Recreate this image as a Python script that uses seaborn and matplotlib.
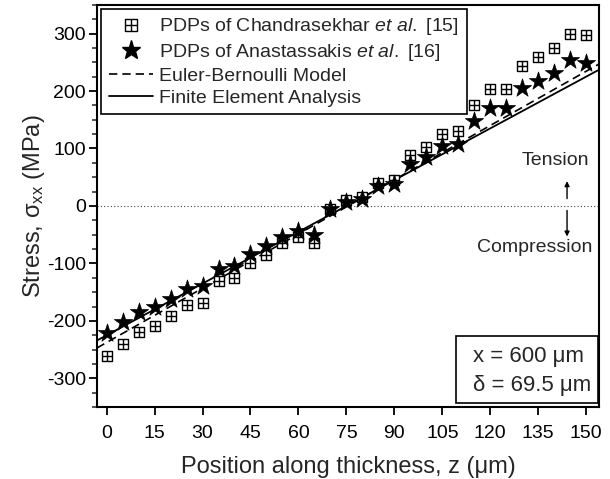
import numpy as np
import pandas as pd
import matplotlib
matplotlib.use("Agg")
import matplotlib.pyplot as plt
from matplotlib.path import Path
from matplotlib.lines import Line2D
from matplotlib.patches import Rectangle
import seaborn as sns

# ---- data ----
z = [0, 5, 10, 15, 20, 25, 30, 35, 40, 45, 50, 55, 60, 65, 70, 75, 80, 85, 90, 95,
     100, 105, 110, 115, 120, 125, 130, 135, 140, 145, 150]
chandrasekhar = [-261, -240, -219, -209, -192, -172, -168, -130, -126, -100, -86, -65, -54, -65, -5,
                 10, 15, 40, 45, 88, 103, 125, 130, 175, 204, 204, 243, 260, 275, 300, 297]
anastassakis = [-221, -202, -184, -175, -161, -144, -140, -109, -105, -84, -70, -54, -44, -51, -5,
                7, 12, 35, 38, 73, 85, 105, 108, 148, 170, 170, 205, 217, 232, 254, 249]
z_model = [-3, 154]
euler_bernoulli = [-247, 247]
fea = [-234, 237]

xticks = [0, 15, 30, 45, 60, 75, 90, 105, 120, 135, 150]
yticks = [-300, -200, -100, 0, 100, 200, 300]

sns.set_style("ticks")
plt.rcParams["font.family"] = ["Liberation Sans", "DejaVu Sans"]
plt.rcParams["mathtext.fontset"] = "custom"
plt.rcParams["mathtext.rm"] = "Liberation Sans"
plt.rcParams["mathtext.it"] = "Liberation Sans:italic"
plt.rcParams["axes.unicode_minus"] = False

fig = plt.figure(figsize=(6.1, 4.79), dpi=100)
ax = fig.add_axes([0.159, 0.150, 0.823, 0.840])

# box-plus marker
verts = [(-1, -1), (1, -1), (1, 1), (-1, 1), (-1, -1), (0, -1), (0, 1), (-1, 0), (1, 0)]
codes = [Path.MOVETO, Path.LINETO, Path.LINETO, Path.LINETO, Path.CLOSEPOLY,
         Path.MOVETO, Path.LINETO, Path.MOVETO, Path.LINETO]
boxplus = Path(verts, codes)

ax.axhline(0, color="#444444", lw=0.8, ls=(0, (1, 2)), zorder=1)

sns.lineplot(x=z_model, y=euler_bernoulli, color="black", lw=1.2, ls=(0, (5, 3)), ax=ax, zorder=2)
sns.lineplot(x=z_model, y=fea, color="black", lw=1.3, ax=ax, zorder=2)

sns.scatterplot(x=z, y=chandrasekhar, marker=boxplus, s=60, color="white",
                edgecolor="black", linewidth=1.0, ax=ax, zorder=3)
sns.scatterplot(x=z, y=anastassakis, marker="*", s=190, color="black",
                edgecolor="black", linewidth=0.5, ax=ax, zorder=4)

ax.set_xlim(-3, 154)
ax.set_ylim(-350, 350)
ax.set_xticks(xticks)
ax.set_yticks(yticks)
ax.set_yticks(np.arange(-350, 351, 25), minor=True)
ax.tick_params(axis="both", which="major", direction="out", length=6, width=1.3,
               labelsize=14, colors="black")
ax.tick_params(axis="x", which="major", pad=7)
ax.tick_params(axis="y", which="major", pad=2)
ax.tick_params(axis="y", which="minor", direction="out", length=3.5, width=1.1)
for s in ax.spines.values():
    s.set_linewidth(1.5)
    s.set_color("black")
    s.set_visible(True)

ax.set_xlabel("Position along thickness, z (\u03bcm)", fontsize=17, labelpad=10)
ax.set_ylabel("Stress, \u03c3$_{\\rm xx}$ (MPa)", fontsize=17, labelpad=0)

handles = [
    Line2D([], [], ls="none", marker=boxplus, markersize=8, mfc="white", mec="black", mew=1.0),
    Line2D([], [], ls="none", marker="*", markersize=14, mfc="black", mec="black"),
    Line2D([], [], color="black", lw=1.2, ls=(0, (5, 3))),
    Line2D([], [], color="black", lw=1.3),
]
labels = [
    "PDPs of Chandrasekhar $\\it{et\\ al.}$ [15]",
    "PDPs of Anastassakis $\\it{et\\ al.}$ [16]",
    "Euler-Bernoulli Model",
    "Finite Element Analysis",
]
leg = ax.legend(handles, labels, loc="upper left", fontsize=14, frameon=True, fancybox=False,
                edgecolor="black", framealpha=1, borderaxespad=0.2, handlelength=2.3,
                handletextpad=0.3, labelspacing=0.22, borderpad=0.4)
leg.get_frame().set_linewidth(1.2)

# annotation box
ax.add_patch(Rectangle((0.715, 0.01), 0.282, 0.167, transform=ax.transAxes, fill=True,
                       facecolor="white", edgecolor="black", lw=1.2, zorder=5))
ax.text(0.748, 0.125, "x = 600 \u03bcm", transform=ax.transAxes, fontsize=16,
        va="center", ha="left", zorder=6)
ax.text(0.748, 0.055, "\u03b4 = 69.5 \u03bcm", transform=ax.transAxes, fontsize=16,
        va="center", ha="left", zorder=6)

# tension / compression
ax.text(140.5, 79, "Tension", fontsize=14, ha="center", va="center")
ax.text(134, -72, "Compression", fontsize=14, ha="center", va="center")
ax.annotate("", xy=(144, 48), xytext=(144, 8),
            arrowprops=dict(arrowstyle="-|>", color="black", lw=1, mutation_scale=7))
ax.annotate("", xy=(144, -58), xytext=(144, -3),
            arrowprops=dict(arrowstyle="-|>", color="black", lw=1, mutation_scale=7))

fig.savefig("out.png", dpi=100)
